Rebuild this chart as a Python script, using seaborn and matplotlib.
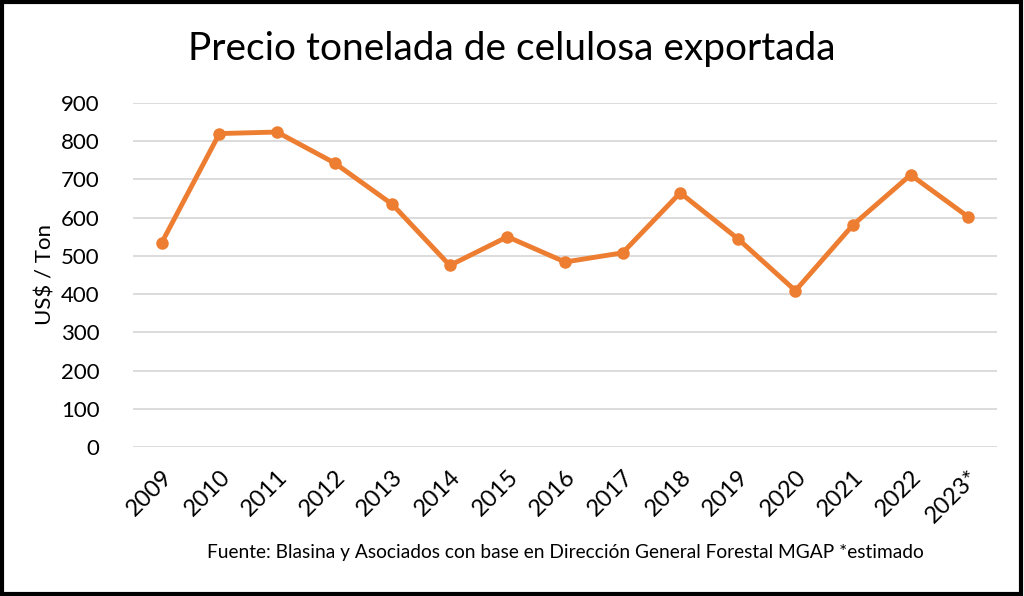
import pandas as pd
import matplotlib.pyplot as plt
import seaborn as sns
from matplotlib.patches import Rectangle

years = ['2009', '2010', '2011', '2012', '2013', '2014', '2015', '2016',
         '2017', '2018', '2019', '2020', '2021', '2022', '2023*']
precio = [535, 820, 824, 743, 635, 475, 550, 484, 508, 665, 545, 409, 581, 712, 602]
yticks = [0, 100, 200, 300, 400, 500, 600, 700, 800, 900]

df = pd.DataFrame({'anio': years, 'precio': precio})

sns.set_theme(style='white')
plt.rcParams['font.family'] = ['Lato', 'DejaVu Sans']

fig = plt.figure(figsize=(10.24, 5.96), dpi=100)
ax = fig.add_axes([0.1299, 0.25, 0.84375, 0.5772])

sns.lineplot(data=df, x='anio', y='precio', ax=ax, color='#ED7D31',
             linewidth=3.5, marker='o', markersize=9, markeredgewidth=0, sort=False)

ax.set_xlim(-0.5, len(years) - 0.5)
ax.set_ylim(0, 900)
ax.set_yticks(yticks)
ax.set_yticklabels([str(v) for v in yticks], fontsize=16)
ax.set_xticks(range(len(years)))
ax.set_xticklabels(years, rotation=45, ha='right', rotation_mode='anchor', fontsize=17)
ax.tick_params(axis='x', pad=14, length=0, labelcolor='black')
ax.tick_params(axis='y', pad=24, length=0, labelcolor='black')
ax.grid(axis='y', color='#D9D9D9', linewidth=1.3)
ax.set_axisbelow(True)
for s in ax.spines.values():
    s.set_visible(False)
ax.set_xlabel('')
ax.set_ylabel('US$ / Ton', fontsize=16, labelpad=4, color='black')

fig.text(0.5, 0.918, 'Precio tonelada de celulosa exportada', ha='center', va='center',
         fontsize=28, color='black')
fig.text(0.552, 0.073, 'Fuente: Blasina y Asociados con base en Dirección General Forestal MGAP *estimado',
         ha='center', va='center', fontsize=13.8, color='black')

fig.patches.append(Rectangle((0.002, 0.003), 0.995, 0.993, transform=fig.transFigure,
                             fill=False, edgecolor='black', linewidth=3))

plt.savefig('out.png', dpi=100)
